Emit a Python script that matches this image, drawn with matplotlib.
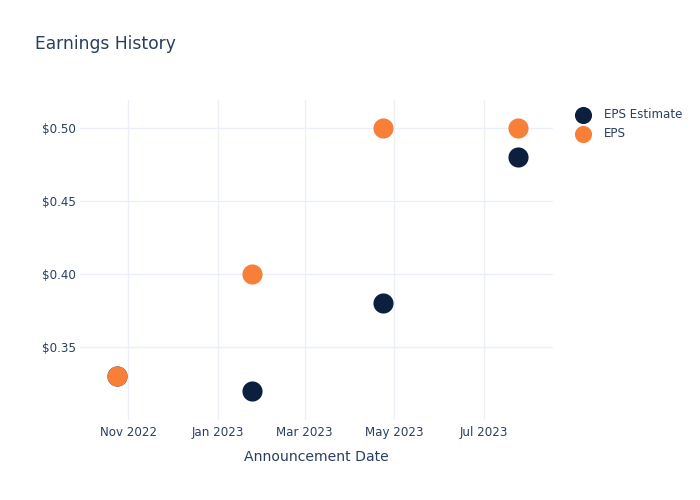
import datetime as dt
import matplotlib
matplotlib.use("Agg")
import matplotlib.pyplot as plt
import matplotlib.dates as mdates
from matplotlib.ticker import FuncFormatter

# data
dates = [dt.date(2022, 10, 24), dt.date(2023, 1, 24), dt.date(2023, 4, 23), dt.date(2023, 7, 24)]
eps_estimate = [0.33, 0.32, 0.38, 0.48]
eps_actual = [0.33, 0.40, 0.50, 0.50]

NAVY = "#0c1f3f"
ORANGE = "#f77f38"
TEXT = "#2a3f5f"
GRID = "#ebf0f8"

plt.rcParams["font.family"] = ["DejaVu Sans"]

fig = plt.figure(figsize=(7, 5), dpi=100)
ax = fig.add_axes([80 / 700, 80 / 500, 473 / 700, 320 / 500])

ax.scatter(dates, eps_estimate, s=210, color=NAVY, label="EPS Estimate", zorder=3, linewidths=0)
ax.scatter(dates, eps_actual, s=210, color=ORANGE, label="EPS", zorder=4, linewidths=0)

ax.set_xlim(dt.date(2022, 9, 29), dt.date(2023, 8, 17))
ax.set_ylim(0.3, 0.5192)

ax.xaxis.set_major_locator(mdates.MonthLocator(bymonth=[1, 3, 5, 7, 9, 11]))
ax.xaxis.set_major_formatter(mdates.DateFormatter("%b %Y"))
ax.set_yticks([0.35, 0.40, 0.45, 0.50])
ax.yaxis.set_major_formatter(FuncFormatter(lambda v, p: f"${v:.2f}"))

for s in ax.spines.values():
    s.set_visible(False)
ax.grid(True, color=GRID, linewidth=1)
ax.set_axisbelow(True)
ax.tick_params(axis="both", length=0, labelsize=8.6, labelcolor=TEXT)
ax.tick_params(axis="x", pad=4)
ax.tick_params(axis="y", pad=3)

ax.set_xlabel("Announcement Date", fontsize=10.1, color=TEXT, labelpad=8)

fig.text(35 / 700, 1 - 44 / 500, "Earnings History", fontsize=12.3, color=TEXT, va="center", ha="left")

leg = fig.legend(loc="upper left", bbox_to_anchor=(569 / 700, 1 - 103 / 500), frameon=False,
                 fontsize=8.6, labelcolor=TEXT, handletextpad=1.0, borderaxespad=0,
                 labelspacing=0.55, markerscale=0.85, handlelength=1.5)

fig.savefig("out.png", dpi=100)
